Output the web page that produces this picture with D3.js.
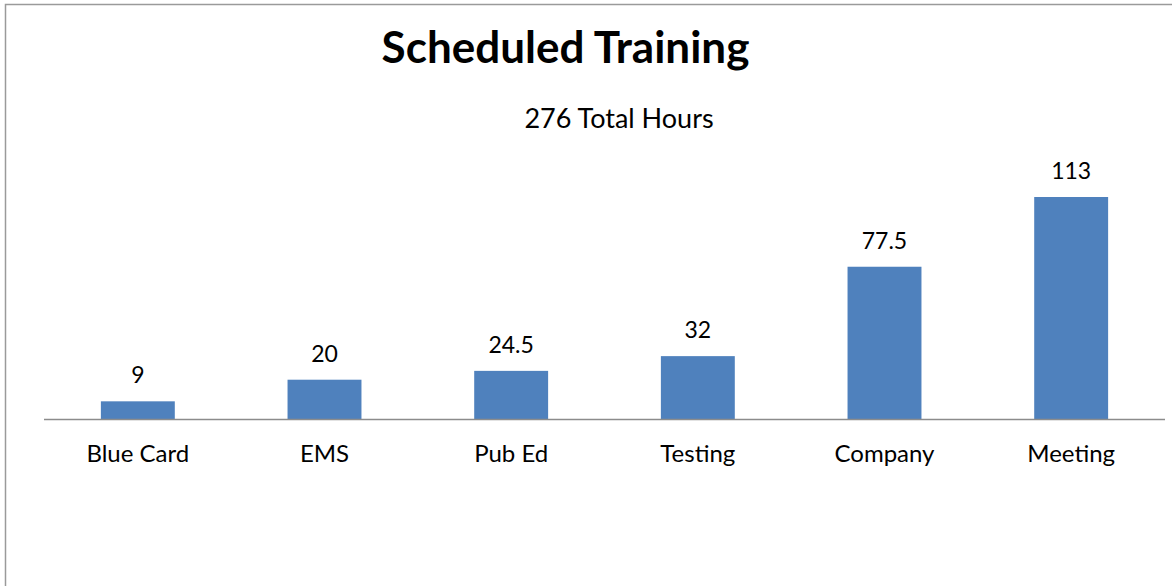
<!DOCTYPE html>
<html>
<head>
<meta charset="utf-8">
<script src="https://cdn.jsdelivr.net/npm/d3@7"></script>
<style>
  body { margin: 0; background: #fff; }
  svg { display: block; }
  text { font-family: Lato, "Open Sans", sans-serif; fill: #000; }
</style>
</head>
<body>
<div id="plot"></div>
<script>
// chart data
var categories = ['Blue Card', 'EMS', 'Pub Ed', 'Testing', 'Company', 'Meeting'];
var hours = [9, 20, 24.5, 32, 77.5, 113];
var valueLabels = ['9', '20', '24.5', '32', '77.5', '113'];
var title = 'Scheduled Training';
var subtitle = '276 Total Hours';

var width = 1172, height = 586;

var svg = d3.select('#plot')
  .append('svg')
  .attr('width', width)
  .attr('height', height);

// outer frame (cut off on right and bottom like the reference)
svg.append('rect')
  .attr('x', 5.5).attr('y', 4.5)
  .attr('width', 1200).attr('height', 600)
  .style('fill', 'none')
  .style('stroke', '#9a9a9a')
  .style('stroke-width', 1.5);

var x = d3.scaleBand()
  .domain(categories)
  .range([44.5, 1164.5])
  .paddingInner(0.604)
  .paddingOuter(0.302);

var y = d3.scaleLinear()
  .domain([0, 113])
  .range([419, 197]);

var data = categories.map(function (c, i) {
  return { cat: c, val: hours[i], label: valueLabels[i] };
});

svg.selectAll('rect.bar')
  .data(data)
  .enter().append('rect')
  .attr('class', 'bar')
  .attr('x', function (d) { return x(d.cat); })
  .attr('y', function (d) { return y(d.val); })
  .attr('width', x.bandwidth())
  .attr('height', function (d) { return y(0) - y(d.val); })
  .style('fill', '#4f81bd');

// category axis
var axis = svg.append('g')
  .attr('transform', 'translate(0,' + y(0) + ')')
  .call(d3.axisBottom(x).tickSize(0).tickPadding(0));
axis.select('.domain').remove();
axis.selectAll('text').remove();
axis.append('line')
  .attr('x1', 44).attr('x2', 1165)
  .attr('y1', 0.5).attr('y2', 0.5)
  .style('stroke', '#8c8c8c')
  .style('stroke-width', 1.5);

svg.selectAll('text.cat')
  .data(categories)
  .enter().append('text')
  .attr('class', 'cat')
  .attr('x', function (d) { return x(d) + x.bandwidth() / 2; })
  .attr('y', 462)
  .attr('text-anchor', 'middle')
  .style('font-size', '24px')
  .text(function (d) { return d; });

svg.selectAll('text.val')
  .data(data)
  .enter().append('text')
  .attr('class', 'val')
  .attr('x', function (d) { return x(d.cat) + x.bandwidth() / 2; })
  .attr('y', function (d) { return y(d.val) - 18; })
  .attr('text-anchor', 'middle')
  .style('font-size', '23px')
  .text(function (d) { return d.label; });

svg.append('text')
  .attr('x', 565.5).attr('y', 63)
  .attr('text-anchor', 'middle')
  .style('font-size', '44px')
  .style('font-weight', 'bold')
  .text(title);

svg.append('text')
  .attr('x', 619).attr('y', 128)
  .attr('text-anchor', 'middle')
  .style('font-size', '27px')
  .text(subtitle);
</script>
</body>
</html>
